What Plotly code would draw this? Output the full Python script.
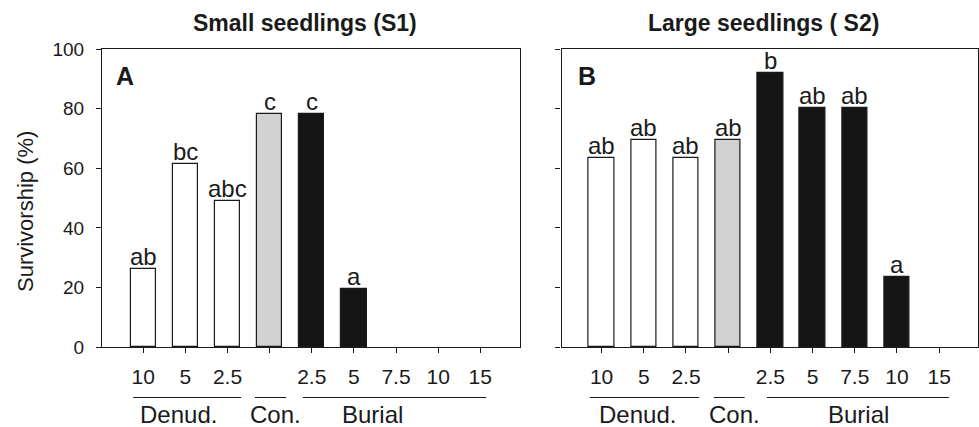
import plotly.graph_objects as go

# ---------------- data ----------------
dose_labels = ["10", "5", "2.5", "", "2.5", "5", "7.5", "10", "15"]
treatments = ["Denud.", "Denud.", "Denud.", "Con.", "Burial", "Burial", "Burial", "Burial", "Burial"]
group_names = ["Denud.", "Con.", "Burial"]

s1_survival = [26.4, 61.6, 48.9, 78.3, 78.3, 19.6, 0, 0, 0]
s2_survival = [63.5, 69.4, 63.5, 69.4, 92.1, 80.2, 80.2, 23.6, 0]
s1_letters = ["ab", "bc", "abc", "c", "c", "a", "", "", ""]
s2_letters = ["ab", "ab", "ab", "ab", "b", "ab", "ab", "a", ""]

panel_titles = ["<b>Small seedlings (S1)</b>", "<b>Large seedlings ( S2)</b>"]
panel_tags = ["<b>A</b>", "<b>B</b>"]
y_title = "Survivorship (%)"
y_ticks = [0, 20, 40, 60, 80, 100]

# ---------------- styling ----------------
W, H = 979, 427
FONT = "Liberation Sans, Arial, sans-serif"
INK = "#1a1a1a"
fill_for = {"Denud.": "#ffffff", "Con.": "#d2d2d2", "Burial": "#151515"}

def px_x(p):
    return p / W

def px_y(p):
    return 1 - p / H

panels = [
    dict(values=s1_survival, letters=s1_letters, xa="x", ya="y",
         domain=[px_x(102), px_x(520.3)], xrange=[-0.98, 8.95],
         title_x=px_x(305), tag_x=px_x(114),
         spans=[(-0.24, 2.32), (2.65, 3.39), (3.79, 8.14)],
         label_x=[0.84, 3.15, 5.43]),
    dict(values=s2_survival, letters=s2_letters, xa="x2", ya="y2",
         domain=[px_x(561.5), px_x(978)], xrange=[-0.95, 8.92],
         title_x=px_x(763), tag_x=px_x(576),
         spans=[(-0.28, 2.31), (2.66, 3.39), (3.92, 8.23)],
         label_x=[0.86, 3.16, 6.08]),
]

ydom = [px_y(347.3), px_y(49)]
xs = list(range(len(dose_labels)))

fig = go.Figure()
annotations = []
shapes = []

for i, p in enumerate(panels):
    fig.add_trace(go.Bar(
        x=xs, y=p["values"], width=0.6,
        marker=dict(color=[fill_for[t] for t in treatments],
                    line=dict(color=INK,
                              width=[1.2 if v > 0 else 0 for v in p["values"]])),
        xaxis=p["xa"], yaxis=p["ya"], showlegend=False,
        hoverinfo="skip",
    ))
    # significance letters
    for x, v, lab in zip(xs, p["values"], p["letters"]):
        if lab:
            annotations.append(dict(
                x=x, y=v, xref=p["xa"], yref=p["ya"], text=lab,
                showarrow=False, xanchor="center", yanchor="bottom", yshift=-3,
                font=dict(family=FONT, size=24, color=INK)))
    # group lines & names
    for (a, b), lx, name in zip(p["spans"], p["label_x"], group_names):
        shapes.append(dict(type="line", xref=p["xa"], yref="paper",
                           x0=a, x1=b, y0=px_y(397.5), y1=px_y(397.5),
                           line=dict(color=INK, width=1)))
        annotations.append(dict(
            x=lx, y=px_y(414), xref=p["xa"], yref="paper",
            text=name, showarrow=False, xanchor="center", yanchor="middle",
            font=dict(family=FONT, size=24, color=INK)))
    # panel title
    annotations.append(dict(
        x=p["title_x"], y=px_y(23), xref="paper", yref="paper",
        text=panel_titles[i], showarrow=False, xanchor="center", yanchor="middle",
        font=dict(family=FONT, size=23, color=INK)))
    # panel tag
    annotations.append(dict(
        x=p["tag_x"], y=px_y(76), xref="paper", yref="paper",
        text=panel_tags[i], showarrow=False, xanchor="left", yanchor="middle",
        font=dict(family=FONT, size=25, color=INK)))

annotations.append(dict(
    x=px_x(25), y=px_y(212), xref="paper", yref="paper", text=y_title,
    showarrow=False, textangle=-90, xanchor="center", yanchor="middle",
    font=dict(family=FONT, size=22, color=INK)))

axis_common = dict(showline=True, linecolor=INK, linewidth=1.2, mirror=True,
                   showgrid=False, zeroline=False, ticks="outside",
                   ticklen=5, tickcolor=INK, tickwidth=1, automargin=False)

fig.update_layout(
    width=W, height=H,
    margin=dict(l=0, r=0, t=0, b=0, pad=0, autoexpand=False),
    paper_bgcolor="white", plot_bgcolor="white",
    font=dict(family=FONT, color=INK),
    bargap=0,
    xaxis=dict(domain=panels[0]["domain"], range=panels[0]["xrange"], anchor="y",
               tickvals=xs, ticktext=dose_labels, tickfont=dict(size=21),
               ticklabelstandoff=5, **axis_common),
    yaxis=dict(domain=ydom, range=[0, 100], anchor="x", tickvals=y_ticks,
               tickfont=dict(size=19), ticklabelstandoff=8, **axis_common),
    xaxis2=dict(domain=panels[1]["domain"], range=panels[1]["xrange"], anchor="y2",
                tickvals=xs, ticktext=dose_labels, tickfont=dict(size=21),
                ticklabelstandoff=5, **axis_common),
    yaxis2=dict(domain=ydom, range=[0, 100], anchor="x2", tickvals=y_ticks,
                showticklabels=False, **axis_common),
    annotations=annotations, shapes=shapes,
)

fig.write_html("out.html")
